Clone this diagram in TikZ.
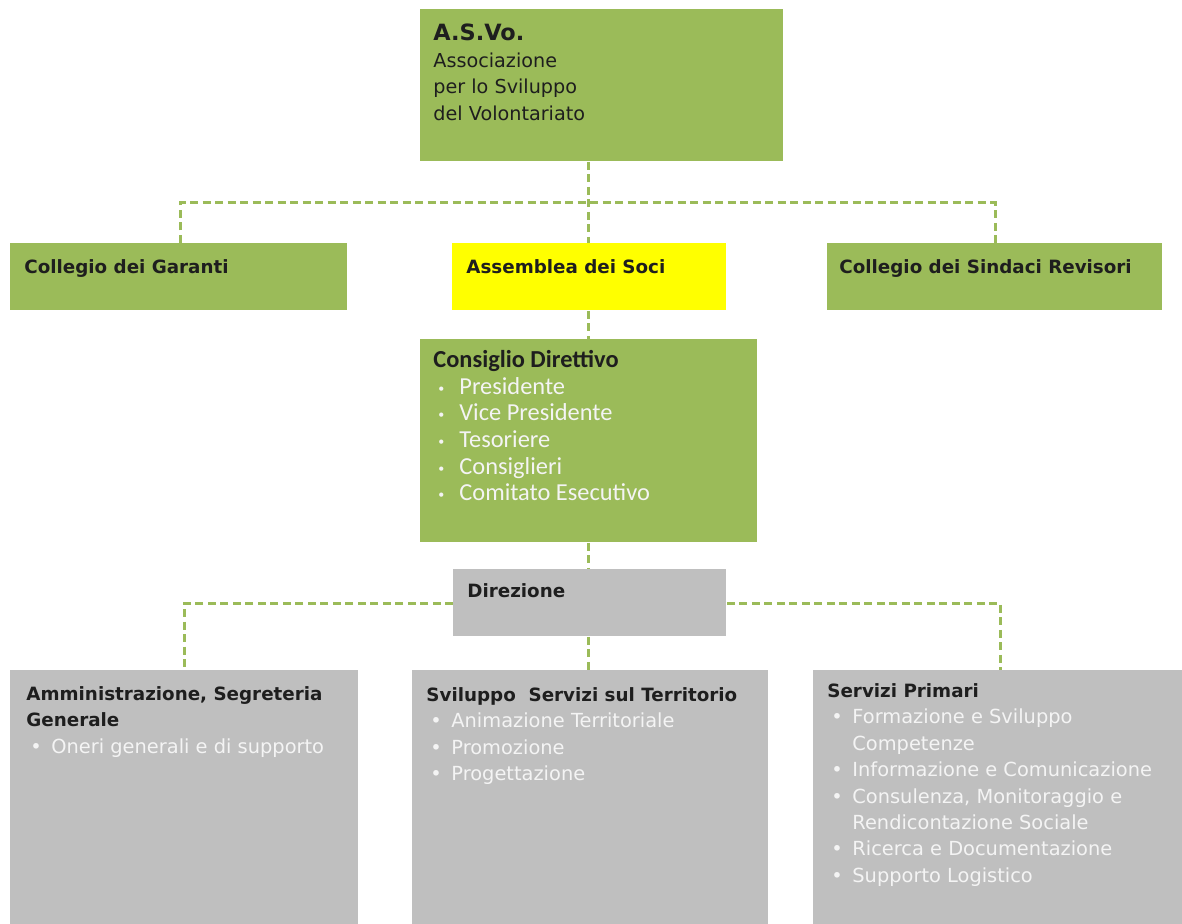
\documentclass[tikz,border=0pt]{standalone}
\usepackage{fontspec}
\setmainfont{DejaVu Sans}
\newfontfamily\calfont{Carlito}
\usetikzlibrary{positioning}
\definecolor{gruen}{HTML}{9BBB59}
\definecolor{grau}{HTML}{BFBFBF}
\definecolor{gelb}{HTML}{FFFF00}
\definecolor{hell}{HTML}{F4F4F4}
\definecolor{dunkel}{HTML}{1E1E1E}
\newcommand{\Anf}{\rule{0pt}{10pt}}% Oberkante erste Zeile
\newcommand{\Punkt}{\hspace*{2pt}\makebox[10.5pt][l]{\textbullet}}
\newcommand{\KPunkt}{\hspace*{2.5pt}\makebox[10.5pt][l]{\raisebox{1pt}{\fontsize{6}{6}\selectfont\textbullet}}}
\newcommand{\Weiter}{\hspace*{12.5pt}}
\tikzset{
  Kasten/.style={draw=none, inner sep=0pt, anchor=north west}, % Grundform
  GKasten/.style={Kasten, fill=gruen},
  YKasten/.style={Kasten, fill=gelb},
  HKasten/.style={Kasten, fill=grau},
  Text/.style={anchor=north west, inner sep=0pt, align=left, text=dunkel},
  Titel/.style={Text, font=\bfseries\fontsize{9.15}{13.2}\selectfont},
  Liste/.style={Text, font=\fontsize{9.7}{13.2}\selectfont},
  Linie/.style={draw=gruen, line width=1.5pt, dash pattern=on 4pt off 2.25pt}
}
\begin{document}
\begin{tikzpicture}[x=0.5pt, y=-0.5pt]
\useasboundingbox (0,0) rectangle (1182,924);

%Kaesten
\node[GKasten, minimum width=181.5pt, minimum height=76pt]   (asvo)    at (420,9)   {};
\node[GKasten, minimum width=168.5pt, minimum height=33.5pt] (garanti) at (10,243)  {};
\node[YKasten, minimum width=137pt,   minimum height=33.5pt] (soci)    at (452,243) {};
\node[GKasten, minimum width=167.5pt, minimum height=33.5pt] (sindaci) at (827,243) {};
\node[GKasten, minimum width=168.5pt, minimum height=101.5pt](cons)    at (420,339) {};
\node[HKasten, minimum width=136.5pt, minimum height=33.5pt] (direz)   at (453,569) {};
\node[HKasten, minimum width=174pt,   minimum height=127pt]  (ammin)   at (10,670)  {};
\node[HKasten, minimum width=178pt,   minimum height=127pt]  (svil)    at (412,670) {};
\node[HKasten, minimum width=184.5pt, minimum height=127pt]  (serv)    at (813,670) {};

%Texte
\node[Text, font=\fontsize{9.6}{13.4}\selectfont] (asvoT) at (433,20)
  {{\bfseries\fontsize{11.2}{13.4}\selectfont\Anf A.S.Vo.}\\Associazione\\per lo Sviluppo\\del Volontariato};
\node[Titel] (garantiT) at (24,253)  {\Anf Collegio dei Garanti};
\node[Titel] (sociT)    at (466,253) {\Anf Assemblea dei Soci};
\node[Titel] (sindaciT) at (839,253) {\Anf Collegio dei Sindaci Revisori};
\node[Text, font=\calfont\fontsize{12.2}{13.35}\selectfont] (consT) at (433,347)
  {{\bfseries\Anf Consiglio Direttivo}\\
   \color{hell}\KPunkt Presidente\\
   \color{hell}\KPunkt Vice Presidente\\
   \color{hell}\KPunkt Tesoriere\\
   \color{hell}\KPunkt Consiglieri\\
   \color{hell}\KPunkt Comitato Esecutivo};
\node[Titel] (direzT) at (467,577) {\Anf Direzione};
\node[Liste] (amminT) at (26,680)
  {{\bfseries\fontsize{9.15}{13.4}\selectfont\Anf Amministrazione, Segreteria}\\
   {\bfseries\fontsize{9.15}{13.4}\selectfont Generale}\\
   \color{hell}\Punkt Oneri generali e di supporto};
\node[Liste] (svilT) at (426,681)
  {{\bfseries\fontsize{9.15}{13.2}\selectfont\Anf Sviluppo\ \ Servizi sul Territorio}\\
   \color{hell}\Punkt Animazione Territoriale\\
   \color{hell}\Punkt Promozione\\
   \color{hell}\Punkt Progettazione};
\node[Liste] (servT) at (827,677)
  {{\bfseries\fontsize{9.15}{13.1}\selectfont\Anf Servizi Primari}\\
   \color{hell}\Punkt Formazione e Sviluppo\\
   \color{hell}\Weiter Competenze\\
   \color{hell}\Punkt Informazione e Comunicazione\\
   \color{hell}\Punkt Consulenza,\ Monitoraggio e\\
   \color{hell}\Weiter Rendicontazione Sociale\\
   \color{hell}\Punkt Ricerca e Documentazione\\
   \color{hell}\Punkt Supporto Logistico};

%Hilfspunkte
\coordinate (m1) at (588,203);
\coordinate (l1) at (180,203);
\coordinate (r1) at (995,203);
\coordinate (l2) at (184,603);
\coordinate (r2) at (1000,603);

%Verbindungen
\draw[Linie] (asvo.south -| m1) -- (soci.north -| m1);
\draw[Linie] (garanti.north -| l1) -- (l1) -- (r1) -- (sindaci.north -| r1);
\draw[Linie] (soci.south -| m1) -- (cons.north -| m1);
\draw[Linie] (cons.south -| m1) -- (direz.north -| m1);
\draw[Linie] (direz.south -| m1) -- (svil.north -| m1);
\draw[Linie] (direz.west |- l2) -- (l2) -- (ammin.north -| l2);
\draw[Linie] (direz.east |- r2) -- (r2) -- (serv.north -| r2);

\end{tikzpicture}
\end{document}
